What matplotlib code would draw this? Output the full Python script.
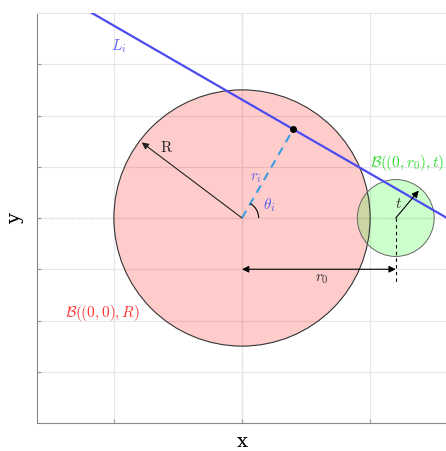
import numpy as np
import matplotlib.pyplot as plt
from matplotlib.patches import Circle, Arc

plt.rcParams['mathtext.fontset'] = 'cm'
plt.rcParams['font.family'] = 'serif'
plt.rcParams['font.serif'] = ['DejaVu Serif']

# --- geometry values ---
R = 5.0            # radius of the big ball
r0 = 6.0           # centre of the small ball on the x axis
t = 1.5            # radius of the small ball
r_i = 4.0          # distance of line L_i from origin
theta_i = 60.0     # angle of the normal (deg)
R_arrow_angle = 143.0
t_arrow_angle = 50.0
lims = [-8, 8]
xticks = [-5, 0, 5]
yticks = [-6, -4, -2, 0, 2, 4, 6]

fig = plt.figure(figsize=(4.46, 4.52), dpi=100)
ax = fig.add_axes([37 / 446, 27 / 452, 410 / 446, 412 / 452])
ax.set_xlim(lims)
ax.set_ylim(lims)
ax.set_aspect('equal')

ax.set_xticks(xticks)
ax.set_yticks(yticks)
ax.set_xticklabels([])
ax.set_yticklabels([])
ax.tick_params(direction='in', length=3, color='#999999')
ax.grid(True, color='#e6e6e6', linewidth=0.8)
for s in ['left', 'bottom']:
    ax.spines[s].set_color('#888888')
for s in ['top', 'right']:
    ax.spines[s].set_color('#e6e6e6')

# dashed coordinate axes
ax.axhline(0, color='#777777', linestyle=(0, (3, 3)), linewidth=0.8, zorder=1)
ax.axvline(0, color='#777777', linestyle=(0, (3, 3)), linewidth=0.8, zorder=1)

# balls
ax.add_patch(Circle((0, 0), R, facecolor='red', alpha=0.2, edgecolor='none', zorder=2))
ax.add_patch(Circle((0, 0), R, facecolor='none', edgecolor='#333333', linewidth=0.8, zorder=3))
ax.add_patch(Circle((r0, 0), t, facecolor='lime', alpha=0.2, edgecolor='none', zorder=2))
ax.add_patch(Circle((r0, 0), t, facecolor='none', edgecolor='#666666', linewidth=0.7, zorder=3))

# line L_i: x cos(theta) + y sin(theta) = r_i
th = np.deg2rad(theta_i)
xs = np.array([-9.0, 9.0])
ys = (r_i - xs * np.cos(th)) / np.sin(th)
ax.plot(xs, ys, color='#4b4bf0', linewidth=1.6, zorder=4)
px, py = r_i * np.cos(th), r_i * np.sin(th)
ax.plot([0, px], [0, py], color='#3a9ee0', linestyle=(0, (4, 3)), linewidth=1.5, zorder=4)
ax.plot(px, py, 'o', color='black', markersize=4, zorder=5)
ax.add_patch(Arc((0, 0), 1.3, 1.3, theta1=0, theta2=theta_i, color='black', linewidth=0.8, zorder=4))

arrow_kw = dict(lw=0.8, mutation_scale=10, shrinkA=0, shrinkB=0)

# R arrow
ra = np.deg2rad(R_arrow_angle)
ax.annotate('', xy=(0.98 * R * np.cos(ra), 0.98 * R * np.sin(ra)), xytext=(0, 0),
            arrowprops=dict(arrowstyle='-|>', color='#222222', **arrow_kw), zorder=5)
ax.text(-2.95, 2.8, r'$\mathrm{R}$', fontsize=11, color='#222222', ha='center', va='center')

# r0 arrow
ax.annotate('', xy=(r0, -2), xytext=(0, -2),
            arrowprops=dict(arrowstyle='<|-|>', color='black', **arrow_kw), zorder=5)
ax.plot([r0, r0], [0, -2.5], color='black', linestyle=(0, (3, 3)), linewidth=0.8, zorder=4)
ax.text(3.1, -2.35, r'$r_0$', fontsize=11, color='#333333', ha='center', va='center')

# t arrow
ta = np.deg2rad(t_arrow_angle)
ax.annotate('', xy=(r0 + 0.93 * t * np.cos(ta), 0.93 * t * np.sin(ta)), xytext=(r0, 0),
            arrowprops=dict(arrowstyle='-|>', color='black', **arrow_kw), zorder=5)

# labels
ax.text(-4.8, 6.75, r'$L_i$', fontsize=11, color='#6464f0', ha='center', va='center')
ax.text(0.55, 1.6, r'$r_i$', fontsize=11, color='#6464e0', ha='center', va='center')
ax.text(1.05, 0.55, r'$\theta_i$', fontsize=11, color='#5a5ae6', ha='center', va='center')
ax.text(6.1, 0.6, r'$t$', fontsize=11, color='#333333', ha='center', va='center')
ax.text(5.0, 2.2, r'$\mathcal{B}((0,r_0),t)$', fontsize=11, color='#33dd33', ha='left', va='center')
ax.text(-6.9, -3.65, r'$\mathcal{B}((0,0),R)$', fontsize=11, color='#ff3333', ha='left', va='center')

ax.set_xlabel('x', fontsize=14, labelpad=3)
ax.set_ylabel('y', fontsize=14, labelpad=6)

fig.savefig('out.png', dpi=100)
